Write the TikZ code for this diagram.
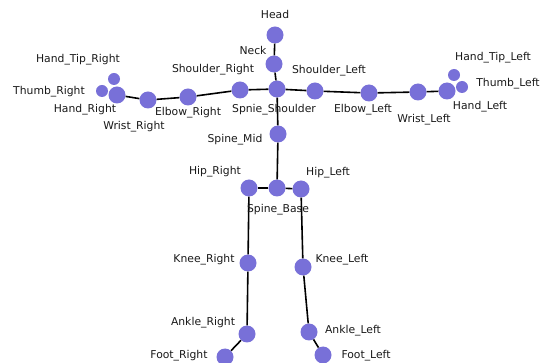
\documentclass[tikz,border=0pt]{standalone}
\usepackage{fontspec}
\setmainfont{DejaVu Sans}
\definecolor{joint}{RGB}{120,112,216}
\tikzset{
  jnt/.style={circle,fill=joint,minimum size=17pt,inner sep=0pt},
  sjnt/.style={circle,fill=joint,minimum size=12pt,inner sep=0pt},
  lbl/.style={anchor=base,inner sep=0pt,font=\fontsize{10.8}{12}\selectfont,text=black!90},
  bone/.style={line width=1.6pt,black}
}
\begin{document}
\begin{tikzpicture}[x=1pt,y=-1pt]
\useasboundingbox (0,0) rectangle (541,363);
% joints
\node[jnt] (head) at (275,35) {};
\node[jnt] (neck) at (274,64) {};
\node[jnt] (sps) at (277,89) {};
\node[jnt] (shr) at (240,90) {};
\node[jnt] (shl) at (315,91) {};
\node[jnt] (elr) at (188,97) {};
\node[jnt] (wrr) at (148,100) {};
\node[jnt] (har) at (117,95) {};
\node[sjnt] (thr) at (102,91) {};
\node[sjnt] (htr) at (114,79) {};
\node[jnt] (ell) at (369,93) {};
\node[jnt] (wrl) at (418,92) {};
\node[jnt] (hal) at (447,91) {};
\node[sjnt] (thl) at (462,87) {};
\node[sjnt] (htl) at (454,75) {};
\node[jnt] (spm) at (278,134) {};
\node[jnt] (spb) at (277,188) {};
\node[jnt] (hipr) at (249,188) {};
\node[jnt] (hipl) at (301,189) {};
\node[jnt] (knr) at (248,263) {};
\node[jnt] (knl) at (303,267) {};
\node[jnt] (anr) at (247,334) {};
\node[jnt] (anl) at (309,332) {};
\node[jnt] (ftr) at (225,357) {};
\node[jnt] (ftl) at (323,355) {};
% bones
\draw[bone] (head) -- (neck);
\draw[bone] (neck) -- (sps);
\draw[bone] (sps) -- (shr);
\draw[bone] (sps) -- (shl);
\draw[bone] (sps) -- (spm);
\draw[bone] (shr) -- (elr);
\draw[bone] (elr) -- (wrr);
\draw[bone] (wrr) -- (har);
\draw[bone] (shl) -- (ell);
\draw[bone] (ell) -- (wrl);
\draw[bone] (wrl) -- (hal);
\draw[bone] (spm) -- (spb);
\draw[bone] (spb) -- (hipr);
\draw[bone] (spb) -- (hipl);
\draw[bone] (hipr) -- (knr);
\draw[bone] (knr) -- (anr);
\draw[bone] (anr) -- (ftr);
\draw[bone] (hipl) -- (knl);
\draw[bone] (knl) -- (anl);
\draw[bone] (anl) -- (ftl);
% labels
\node[lbl] (lhead) at (275,19) {Head};
\node[lbl] (lneck) at (253,55) {Neck};
\node[lbl] (lshr) at (213,73) {Shoulder\_Right};
\node[lbl] (lhtr) at (78,63) {Hand\_Tip\_Right};
\node[lbl] (lthr) at (49,95) {Thumb\_Right};
\node[lbl] (lhar) at (85,113) {Hand\_Right};
\node[lbl] (lwrr) at (134,130) {Wrist\_Right};
\node[lbl] (lelr) at (188,116) {Elbow\_Right};
\node[lbl] (lsps) at (274,113) {Spnie\_Shoulder};
\node[lbl] (lspm) at (235,143) {Spine\_Mid};
\node[lbl] (lshl) at (329,74) {Shoulder\_Left};
\node[lbl] (lell) at (363,113) {Elbow\_Left};
\node[lbl] (lwrl) at (424,123) {Wrist\_Left};
\node[lbl] (lhal) at (480,110) {Hand\_Left};
\node[lbl] (lthl) at (508,87) {Thumb\_Left};
\node[lbl] (lhtl) at (493,61) {Hand\_Tip\_Left};
\node[lbl] (lhipr) at (215,175) {Hip\_Right};
\node[lbl] (lhipl) at (328,176) {Hip\_Left};
\node[lbl] (lspb) at (278,213) {Spine\_Base};
\node[lbl] (lknr) at (204,263) {Knee\_Right};
\node[lbl] (lknl) at (342,263) {Knee\_Left};
\node[lbl] (lanr) at (203,326) {Ankle\_Right};
\node[lbl] (lanl) at (353,334) {Ankle\_Left};
\node[lbl] (lftr) at (179,359) {Foot\_Right};
\node[lbl] (lftl) at (366,359) {Foot\_Left};
\end{tikzpicture}
\end{document}
